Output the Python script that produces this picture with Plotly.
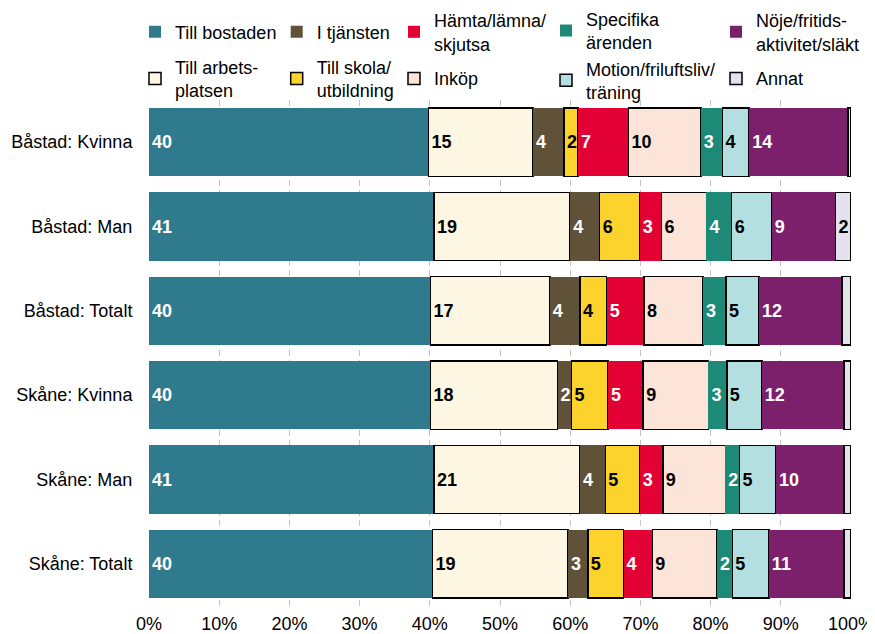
import plotly.graph_objects as go

categories = ["Båstad: Kvinna", "Båstad: Man", "Båstad: Totalt",
              "Skåne: Kvinna", "Skåne: Man", "Skåne: Totalt"]

series_names = ["Till bostaden", "Till arbets-<br>platsen", "I tjänsten",
                "Till skola/<br>utbildning", "Hämta/lämna/<br>skjutsa", "Inköp",
                "Specifika<br>ärenden", "Motion/friluftsliv/<br>träning",
                "Nöje/fritids-<br>aktivitet/släkt", "Annat"]

till_bostaden = [39.8, 40.6, 40.1, 40.1, 40.6, 40.4]
till_arbetsplatsen = [14.9, 19.4, 17.0, 18.1, 20.8, 19.3]
i_tjansten = [4.4, 4.2, 4.3, 2.0, 3.6, 2.8]
till_skola = [2.0, 5.7, 3.8, 5.2, 4.9, 5.1]
hamta_lamna = [7.2, 3.1, 5.3, 5.0, 3.3, 4.1]
inkop = [10.3, 6.4, 8.4, 9.3, 8.9, 9.2]
specifika = [3.1, 3.6, 3.3, 2.6, 2.0, 2.2]
motion = [3.8, 5.7, 4.7, 5.0, 5.2, 5.2]
noje = [14.1, 9.1, 11.8, 11.7, 9.7, 10.7]
annat = [0.4, 2.2, 1.3, 1.0, 1.0, 1.0]

series_values = [till_bostaden, till_arbetsplatsen, i_tjansten, till_skola,
                 hamta_lamna, inkop, specifika, motion, noje, annat]

x_ticks = [0, 10, 20, 30, 40, 50, 60, 70, 80, 90, 100]
x_tick_labels = ["0%", "10%", "20%", "30%", "40%", "50%", "60%", "70%", "80%", "90%", "100%"]

colors = ["#2F7A8D", "#FDF6E3", "#605238", "#FCD22C", "#E30035",
          "#FDE4D9", "#1C8A77", "#B4DFE1", "#7D206B", "#E5E2F0"]
dark = [True, False, True, False, True, False, True, False, True, False]
legend_ids = ["legend", "legend", "legend2", "legend2", "legend3",
              "legend3", "legend4", "legend4", "legend5", "legend5"]

FONT = "Liberation Sans, Arial, sans-serif"
W, H = 867, 626  # page body adds an 8px margin
ML, MR, MT, MB = 141, 24, 92, 28
PLOT_H = H - MT - MB

fig = go.Figure()
for i, (name, vals) in enumerate(zip(series_names, series_values)):
    labels = [str(round(v)) if round(v) >= 2 else "" for v in vals]
    fig.add_trace(go.Bar(
        y=categories, x=vals, orientation="h", name=name,
        legend=legend_ids[i], legendgroup="g%d" % i,
        marker=dict(color=colors[i],
                    line=dict(color=colors[i] if dark[i] else "#000000",
                              width=0 if dark[i] else 1.5)),
        text=labels, textposition="inside", insidetextanchor="start",
        constraintext="none",
        textfont=dict(family=FONT, size=18,
                      color="#FFFFFF" if dark[i] else "#000000"),
        texttemplate="<b>%{text}</b>",
        hoverinfo="skip",
    ))

fig.update_layout(
    barmode="stack", bargap=0.19,
    width=W, height=H,
    margin=dict(l=ML, r=MR, t=MT, b=MB, autoexpand=False),
    paper_bgcolor="white", plot_bgcolor="white",
    font=dict(family=FONT, size=18, color="#000000"),
)

# legend columns (pixel positions in the figure)
legend_x = [127, 268.7, 386, 538, 708]
tops = [5.6, 5.6, -6.1, -7.5, -6.1]
gaps = [8.5, 8.5, 8.5, 0, 8.5]
for k, key in enumerate(["legend", "legend2", "legend3", "legend4", "legend5"]):
    fig.update_layout({key: dict(
        xref="container", yref="paper",
        x=legend_x[k] / W, y=1 + (MT - tops[k]) / PLOT_H,
        xanchor="left", yanchor="top", orientation="v",
        traceorder="grouped", tracegroupgap=gaps[k],
        bgcolor="rgba(0,0,0,0)", borderwidth=0,
        font=dict(family=FONT, size=18, color="#000000"),
    )})

fig.update_xaxes(
    range=[0, 100], tickvals=x_ticks, ticktext=x_tick_labels,
    showgrid=True, gridcolor="#c4c4c4", gridwidth=1, griddash="6px,4px",
    zeroline=False, showline=False, ticks="outside", ticklen=1,
    tickcolor="rgba(0,0,0,0)", automargin=False,
    tickfont=dict(family=FONT, size=18, color="#000000"),
)
fig.update_yaxes(
    autorange="reversed", showgrid=False, zeroline=False, showline=False,
    ticks="outside", ticklen=12, tickcolor="rgba(0,0,0,0)", automargin=False,
    tickfont=dict(family=FONT, size=18, color="#000000"),
)

fig.write_html("out.html")
